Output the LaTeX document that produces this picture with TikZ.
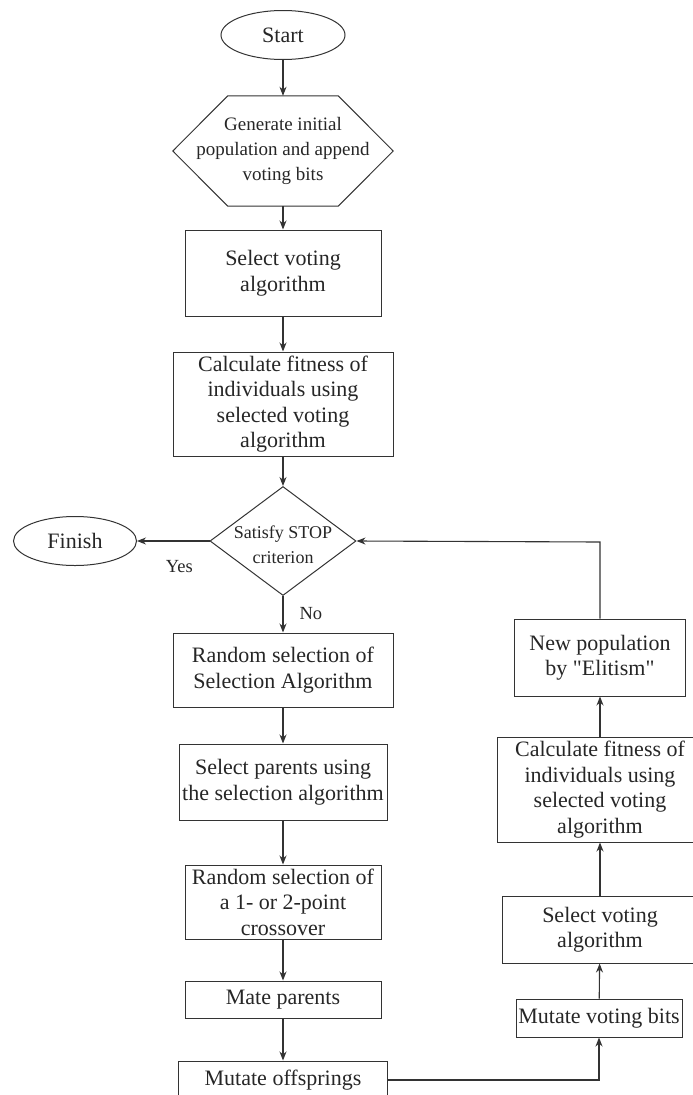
\documentclass[tikz,border=0pt]{standalone}
\usepackage{fontspec}
\setmainfont{Liberation Serif}
\usepackage{tikz}
\usetikzlibrary{shapes.geometric,arrows.meta,positioning,calc}

\tikzset{
  box/.style={draw=black!80, line width=1pt, rectangle, inner sep=0pt, align=center,
    text=black!85, font=\fontsize{22}{25.5}\selectfont},
  term/.style={draw=black!80, line width=1pt, ellipse, inner sep=0pt,
    text=black!85, font=\fontsize{22}{25.5}\selectfont},
  arr/.style={-{Stealth[length=9pt,width=7pt]}, line width=1.1pt, draw=black!80},
  lbl/.style={text=black!85, font=\fontsize{18.5}{22}\selectfont}
}

\begin{document}
\begin{tikzpicture}[x=1pt, y=-1pt]
  \useasboundingbox (0,0) rectangle (693,1095);

  % main column
  \node[term, minimum width=124pt, minimum height=49pt] (start) at (283,35) {Start};
  \node[align=center, inner sep=0pt, minimum width=220pt, minimum height=110pt,
    text=black!85, font=\fontsize{19}{25}\selectfont] (hexa) at (283,151)
    {Generate initial\\population and append\\voting bits};
  \draw[black!80, line width=1pt] (hexa.west) -- ([xshift=55pt]hexa.north west)
    -- ([xshift=-55pt]hexa.north east) -- (hexa.east)
    -- ([xshift=-55pt]hexa.south east) -- ([xshift=55pt]hexa.south west) -- cycle;
  \node[box, minimum width=196pt, minimum height=86pt] (selvote) at (283,273)
    {Select voting\\algorithm};
  \node[box, minimum width=220pt, minimum height=104pt] (calcfit) at (283,404)
    {Calculate fitness of\\individuals using\\selected voting\\algorithm};
  \node[diamond, draw=black!80, line width=1pt, inner sep=0pt,
    minimum width=146pt, minimum height=109pt] (stop) at (283,541) {};
  \node[align=center, inner sep=0pt, text=black!85,
    font=\fontsize{18}{25}\selectfont] (stoptxt) at (283,545) {Satisfy STOP\\criterion};
  \node[term, minimum width=123pt, minimum height=49pt] (finish) at (75,541) {Finish};
  \node[box, minimum width=220pt, minimum height=74pt] (randsel) at (283,670)
    {Random selection of\\Selection Algorithm};
  \node[box, minimum width=208pt, minimum height=76pt] (selpar) at (283,782)
    {Select parents using\\the selection algorithm};
  \node[box, minimum width=196pt, minimum height=74pt] (randcross) at (283,902)
    {Random selection of\\a 1- or 2-point\\crossover};
  \node[box, minimum width=196pt, minimum height=37pt] (mate) at (283,999.5)
    {Mate parents};
  \node[box, minimum width=209pt, minimum height=38pt] (mutoff) at (283,1080)
    {Mutate offsprings};

  % right column
  \node[box, minimum width=166pt, minimum height=38pt] (mutvote) at (599,1018)
    {Mutate voting bits};
  \node[box, minimum width=196pt, minimum height=67pt] (selvote2) at (600,929.5)
    {Select voting\\algorithm};
  \node[box, minimum width=206pt, minimum height=105pt] (calcfit2) at (600,789.5)
    {Calculate fitness of\\individuals using\\selected voting\\algorithm};
  \node[box, minimum width=171pt, minimum height=77pt] (newpop) at (600,657.5)
    {New population\\by \textquotedbl Elitism\textquotedbl};

  % arrows
  \foreach \a/\b in {start/hexa, hexa/selvote, selvote/calcfit, calcfit/stop,
    stop/randsel, randsel/selpar, selpar/randcross, randcross/mate, mate/mutoff,
    mutvote/selvote2, selvote2/calcfit2, calcfit2/newpop} {
    \draw[arr] (\a) -- (\b);
  }
  \draw[arr] (stop) -- node[lbl, below=15pt, xshift=6pt] (yes) {Yes} (finish);
  \node[lbl, anchor=west] (no) at (296,614) {No};
  \draw[arr] (mutoff.east) -| (mutvote.south);
  \coordinate (loop) at (600,542);
  \draw[arr] (newpop.north) -- (loop) -- (stop.east);
\end{tikzpicture}
\end{document}
